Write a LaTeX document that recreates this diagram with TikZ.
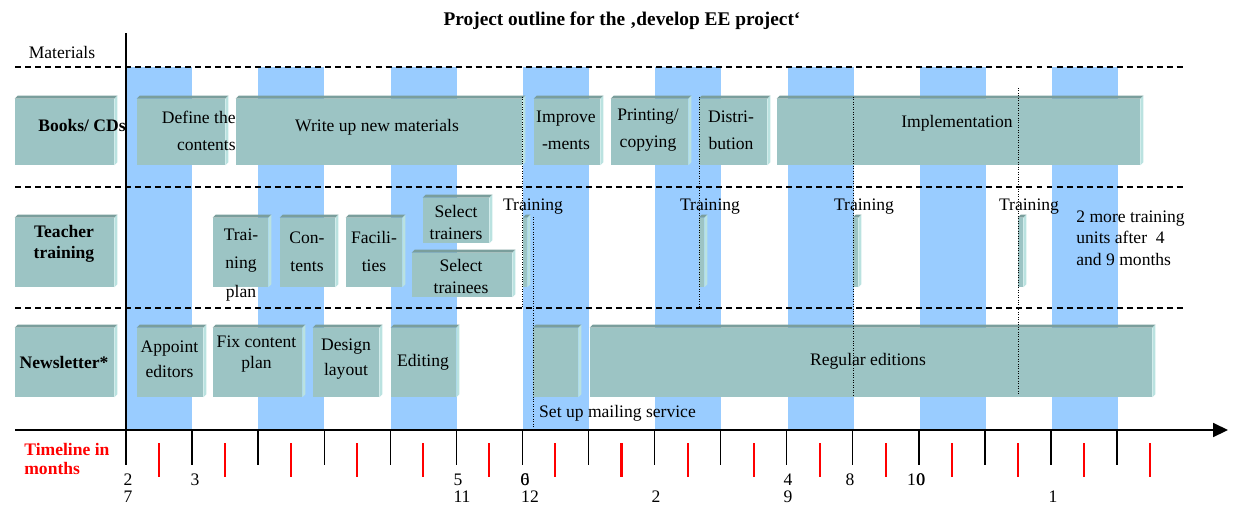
\documentclass[tikz,border=0pt]{standalone}
\usepackage{fontspec}
\setmainfont{Liberation Serif}
\usetikzlibrary{arrows.meta, fit}

\definecolor{stripeblue}{RGB}{153,204,255}
\definecolor{slabfront}{RGB}{156,196,196}
\definecolor{slabtopc}{RGB}{122,158,156}
\definecolor{slabsidec}{RGB}{186,226,224}
\definecolor{timered}{RGB}{255,0,0}

% flat box with a thin top and side face
\newcommand{\slabbox}[3]{%
  \node[slabface, fit={#2 #3}] (#1) {};
  \fill[slabtopc] (#1.north west) -- ++(3,-3) -- ([shift={(3,-3)}]#1.north east) -- (#1.north east) -- cycle;
  \fill[slabsidec] (#1.north east) -- ++(3,-3) -- ([shift={(3,-3)}]#1.south east) -- (#1.south east) -- cycle;}

\begin{document}
\begin{tikzpicture}[
        x=0.02cm, y=-0.02cm,
        txt/.style={align=center, inner sep=0pt, font=\fontsize{10}{12.2}\selectfont},
        rowlabel/.style={align=center, inner sep=0pt, font=\fontsize{10}{12}\selectfont\bfseries},
        slabface/.style={rectangle, fill=slabfront, inner sep=0pt},
        rowline/.style={line width=0.75pt, dash pattern=on 3.4pt off 2.3pt},
        guide/.style={line width=0.4pt, densely dotted},
        tickmajor/.style={line width=0.8pt, black},
        tickminor/.style={line width=1.2pt, draw=timered},
        ticklabel/.style={inner sep=0pt, font=\fontsize{10}{12}\selectfont}
    ]
        \useasboundingbox (0,0) rectangle (1236,508);

        % Month stripes
        \foreach \i in {0,...,7}
            \fill[stripeblue] ({126+132.3*\i},67) rectangle ++(66,363);

        % Row separators
        \draw[rowline] (15,67) -- (1183,67);
        \draw[rowline] (15,187) -- (1183,187);
        \draw[rowline] (15,308) -- (1183,308);
        \draw[line width=0.8pt] (126,33) -- (126,430);

        % Books / CDs
        \slabbox{books}{(15,99)}{(114,165)}
        \slabbox{define}{(137,99)}{(225,165)}
        \slabbox{writeup}{(236,99)}{(522,165)}
        \slabbox{improve}{(534,99)}{(600,165)}
        \slabbox{printing}{(611,99)}{(688,165)}
        \slabbox{distrib}{(699,99)}{(767,165)}
        \slabbox{implement}{(777,99)}{(1140,165)}

        % Teacher training
        \slabbox{teacher}{(15,218)}{(114,287)}
        \slabbox{trainplan}{(213,218)}{(268,287)}
        \slabbox{contents}{(280,218)}{(335,287)}
        \slabbox{facilities}{(346,218)}{(402,287)}
        \slabbox{seltrainers}{(423,198)}{(489,243)}
        \slabbox{seltrainees}{(412,253)}{(512,297)}
        \slabbox{trainA}{(523,218)}{(527,287)}
        \slabbox{trainB}{(699,218)}{(704,287)}
        \slabbox{trainC}{(853,218)}{(858,287)}
        \slabbox{trainD}{(1018,218)}{(1023,287)}

        % Newsletter
        \slabbox{newsletter}{(15,328)}{(114,397)}
        \slabbox{appoint}{(137,328)}{(203,397)}
        \slabbox{fixplan}{(213,328)}{(302,397)}
        \slabbox{design}{(313,328)}{(379,397)}
        \slabbox{editing}{(391,328)}{(456,397)}
        \slabbox{mailing}{(533,328)}{(578,397)}
        \slabbox{regular}{(590,328)}{(1152,397)}

        % Dotted guides
        \draw[guide] (522.5,97) -- (522.5,308);
        \draw[guide] (533,217) -- (533,428);
        \draw[guide] (699,97) -- (699,308);
        \draw[guide] (853,97) -- (853,397);
        \draw[guide] (1018,88) -- (1018,395);

        % Texts
        \node[font=\fontsize{11}{13}\selectfont\bfseries, inner sep=0pt] (title) at (622,21) {Project outline for the ‚develop EE project‘};
        \node[txt] (materials) at (62,52) {Materials};
        \node[rowlabel] (books-t) at (82,125) {Books/ CDs};
        \node[txt, align=right, anchor=east] (define-t) at (236,130.5) {Define the\\[3.1pt]contents};
        \node[txt] (writeup-t) at (377,127) {Write up new materials};
        \node[txt] (improve-t) at (566,130) {Improve\\[3.1pt]-ments};
        \node[txt] (printing-t) at (648,130) {Printing/\\[3.1pt]copying};
        \node[txt] (distrib-t) at (731,130) {Distri-\\[3.1pt]bution};
        \node[txt] (implement-t) at (957,123) {Implementation};

        \node[rowlabel] (teacher-t) at (64,243.5) {Teacher\\training};
        \node[txt] (trainplan-t) at (241,265) {Trai-\\[3.8pt]ning\\[3.8pt]plan};
        \node[txt] (contents-t) at (307,251.5) {Con-\\[3.8pt]tents};
        \node[txt] (facilities-t) at (374,251.5) {Facili-\\[3.8pt]ties};
        \node[txt] (seltrainers-t) at (456,222.5) {Select\\trainers};
        \node[txt] (seltrainees-t) at (461,276.5) {Select\\trainees};
        \node[txt] (trainA-t) at (533,207) {Training};
        \node[txt] (trainB-t) at (710,207) {Training};
        \node[txt] (trainC-t) at (864,207) {Training};
        \node[txt] (trainD-t) at (1029,207) {Training};
        \node[txt, align=left, anchor=west] (more-t) at (1076,238) {2 more training\\units after\ \ 4\\and 9 months};

        \node[rowlabel] (newsletter-t) at (64,362) {Newsletter*};
        \node[txt] (appoint-t) at (169.5,359.5) {Appoint\\[2pt]editors};
        \node[txt] (fixplan-t) at (256.5,354) {Fix content\\plan};
        \node[txt] (design-t) at (346,359.5) {Design\\[2pt]layout};
        \node[txt] (editing-t) at (423,362) {Editing};
        \node[txt] (regular-t) at (868,361) {Regular editions};
        \node[txt] (mailing-t) at (617.5,413) {Set up mailing service};

        % Timeline
        \coordinate (origin) at (15,430);
        \coordinate (axisend) at (1228,430);
        \draw[line width=0.85pt, -{Triangle[length=8.5pt, width=8pt]}] (origin) -- (axisend);
        \foreach \k in {0,...,15} {
            \draw[tickmajor] ({126+66.07*\k},430) -- ++(0,35);
            \draw[tickminor] ({159+66.07*\k},443) -- ++(0,34);
        }
        \node[rowlabel, align=left, anchor=west, text=timered, font=\fontsize{10}{10.5}\selectfont\bfseries] (timeline) at (24,459) {Timeline in\\months};

        % Month numbers
        \node[ticklabel] (m2) at (128,480) {2};
        \node[ticklabel] (m3) at (195,480) {3};
        \node[ticklabel] (m5) at (458,480) {5};
        \node[ticklabel] (m6) at (525,480) {6};
        \node[ticklabel] (m0) at (525,480) {0};
        \node[ticklabel] (m4) at (788,480) {4};
        \node[ticklabel] (m8) at (850,480) {8};
        \node[ticklabel] (m10) at (916,480) {10};
        \node[ticklabel] (m10b) at (921,480) {0};
        \node[ticklabel] (n7) at (128,497) {7};
        \node[ticklabel] (n11) at (462,497) {11};
        \node[ticklabel] (n12) at (530,497) {12};
        \node[ticklabel] (n2) at (656,497) {2};
        \node[ticklabel] (n9) at (788,497) {9};
        \node[ticklabel] (n1) at (1053,497) {1};
    \end{tikzpicture}
\end{document}
